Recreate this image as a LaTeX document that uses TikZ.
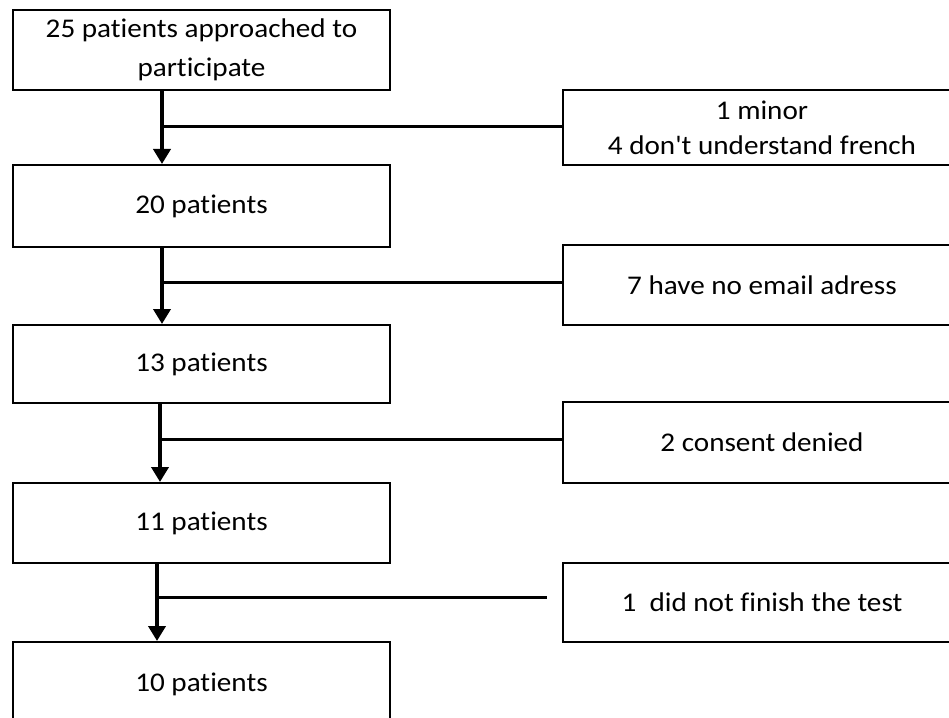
\documentclass[tikz,border=0pt]{standalone}
\usepackage{fontspec}
\newfontfamily\calfont[FakeStretch=1.08,Ligatures={NoCommon}]{Carlito}
\usetikzlibrary{arrows.meta}
\begin{document}
\begin{tikzpicture}[x=1bp,y=-1bp,
  box/.style={draw=black,line width=2bp,inner sep=0pt,align=center,
    font=\calfont\fontsize{27bp}{39bp}\selectfont},
  lbox/.style={box,minimum width=377bp},
  rbox/.style={box,minimum width=398bp},
  flow/.style={line width=4bp,-{Triangle[length=15bp,width=17bp]}},
  branch/.style={line width=3bp}]
\useasboundingbox (0,0) rectangle (949,718);
% left column
\node[lbox,minimum height=80bp] (b1) at (201.5,50) {25 patients approached to\\participate};
\node[lbox,minimum height=82bp] (b2) at (201.5,206) {20 patients};
\node[lbox,minimum height=78bp] (b3) at (201.5,364) {13 patients};
\node[lbox,minimum height=80bp] (b4) at (201.5,523) {11 patients};
\node[lbox,minimum height=84bp] (b5) at (201.5,684) {10 patients};
% right column
\node[rbox,minimum height=75bp,font=\calfont\fontsize{27bp}{35bp}\selectfont] (r1) at (762,127.5) {1 minor\\4 don't understand french};
\node[rbox,minimum height=80bp] (r2) at (762,285) {7 have no email adress};
\node[rbox,minimum height=81bp] (r3) at (762,442.5) {2 consent denied};
\node[rbox,minimum height=79bp] (r4) at (762,602.5) {1\ \ did not finish the test};
% arrow columns and junctions
\coordinate (x1) at (162,0);
\coordinate (x2) at (162,0);
\coordinate (x3) at (160,0);
\coordinate (x4) at (157,0);
\coordinate (j1) at (162,127);
\coordinate (j2) at (162,282);
\coordinate (j3) at (160,439);
\coordinate (j4) at (157,597);
\coordinate (e4) at (547,597);
% vertical arrows
\draw[flow] (b1.south -| x1) -- (b2.north -| x1);
\draw[flow] (b2.south -| x2) -- (b3.north -| x2);
\draw[flow] (b3.south -| x3) -- (b4.north -| x3);
\draw[flow] (b4.south -| x4) -- (b5.north -| x4);
% branches
\draw[branch] (j1) -- (j1 -| r1.west);
\draw[branch] (j2) -- (j2 -| r2.west);
\draw[branch] (j3) -- (j3 -| r3.west);
\draw[branch] (j4) -- (e4);
\end{tikzpicture}
\end{document}
